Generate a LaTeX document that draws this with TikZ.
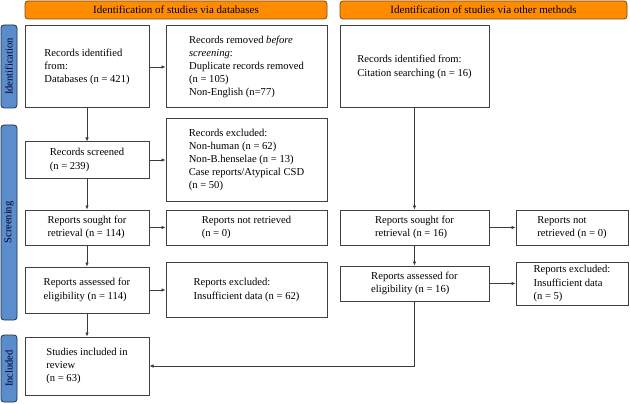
\documentclass[tikz,border=0pt]{standalone}
\usepackage{fontspec}
\setmainfont{Liberation Serif}
\usetikzlibrary{arrows.meta}
\definecolor{hdr}{HTML}{FF8C00}
\definecolor{hdrb}{HTML}{7A4A10}
\definecolor{band}{HTML}{5B8CCB}
\definecolor{bandb}{HTML}{1F2F4A}
\definecolor{edge}{HTML}{404040}
\tikzset{
  box/.style={draw=edge, line width=1pt, fill=white, align=left, inner sep=2pt,
    font=\fontsize{10.6}{13.2}\selectfont},
  hdrbox/.style={draw=hdrb, line width=0.8pt, fill=hdr, rounded corners=3pt,
    font=\fontsize{11}{12}\selectfont, inner sep=0pt},
  bandbox/.style={draw=bandb, line width=0.8pt, fill=band, rounded corners=3pt,
    rotate=90, font=\fontsize{10.5}{11}\selectfont, inner sep=0pt, text=black!85!blue},
  arr/.style={draw=edge!90!black, line width=0.7pt, -{Latex[length=4pt,width=3.5pt]}}
}
\begin{document}
\begin{tikzpicture}[x=1pt,y=-1pt]
\useasboundingbox (0,0) rectangle (630,404);
% headers
\node[hdrbox, minimum width=302pt, minimum height=18pt] (h1) at (176,10) {Identification of studies via databases};
\node[hdrbox, minimum width=287pt, minimum height=18pt] (h2) at (483.5,10) {Identification of studies via other methods};
% bands
\node[bandbox, minimum width=83pt, minimum height=16pt] (s1) at (9,66.5) {Identification};
\node[bandbox, minimum width=195pt, minimum height=16pt] (s2) at (9,222.5) {Screening};
\node[bandbox, minimum width=67pt, minimum height=16pt] (s3) at (9,368.5) {Included};
% left column
\node[box, minimum width=124pt, minimum height=82pt] (b1) at (87,67) {Records identified\\from:\\Databases (n = 421)};
\node[box, minimum width=161pt, minimum height=82pt] (b2) at (246.5,67) {Records removed \textit{before}\\\textit{screening}:\\Duplicate records removed\\(n = 105)\\Non-English (n=77)};
\node[box, minimum width=124pt, minimum height=36pt] (b3) at (87,160) {Records screened\\(n = 239)};
\node[box, minimum width=161pt, minimum height=82pt] (b4) at (246.5,160) {Records excluded:\\Non-human (n = 62)\\Non-B.henselae (n = 13)\\Case reports/Atypical CSD\\(n = 50)};
\node[box, minimum width=124pt, minimum height=35pt] (b5) at (87,227.5) {Reports sought for\\retrieval (n = 114)};
\node[box, minimum width=161pt, minimum height=35pt] (b6) at (246.5,227.5) {Reports not retrieved\\(n = 0)};
\node[box, minimum width=124pt, minimum height=46pt] (b7) at (87,290) {Reports assessed for\\eligibility (n = 114)};
\node[box, minimum width=161pt, minimum height=55pt] (b8) at (246.5,290) {Reports excluded:\\Insufficient data (n = 62)};
\node[box, minimum width=124pt, minimum height=58pt] (b9) at (87,366) {Studies included in\\review\\(n = 63)};
% right column
\node[box, minimum width=149pt, minimum height=82pt] (b10) at (414.5,67) {Records identified from:\\Citation searching (n = 16)};
\node[box, minimum width=149pt, minimum height=35pt] (b11) at (414.5,227.5) {Reports sought for\\retrieval (n = 16)};
\node[box, minimum width=112pt, minimum height=35pt] (b12) at (572,227.5) {Reports not\\retrieved (n = 0)};
\node[box, minimum width=149pt, minimum height=35pt] (b13) at (414.5,283.5) {Reports assessed for\\eligibility (n = 16)};
\node[box, minimum width=112pt, minimum height=43pt] (b14) at (572,283.5) {Reports excluded:\\Insufficient data\\(n = 5)};
% connectors
\draw[arr] (b1) -- (b2);
\draw[arr] (b1) -- (b3);
\draw[arr] (b3) -- (b4);
\draw[arr] (b3) -- (b5);
\draw[arr] (b5) -- (b6);
\draw[arr] (b5) -- (b7);
\draw[arr] (b7) -- (b8);
\draw[arr] (b7) -- (b9);
\draw[arr] (b10) -- (b11);
\draw[arr] (b11) -- (b12);
\draw[arr] (b11) -- (b13);
\draw[arr] (b13) -- (b14);
\draw[arr] (b13.south) |- (b9.east);
\end{tikzpicture}
\end{document}
